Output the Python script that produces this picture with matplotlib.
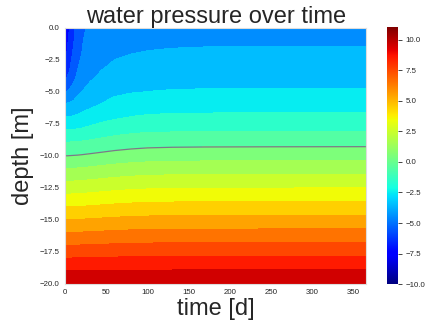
import numpy as np
import matplotlib
matplotlib.use("Agg")
import matplotlib.pyplot as plt
from matplotlib.colors import Normalize
from matplotlib.cm import ScalarMappable

# time nodes [d]
times = [0, 2.5, 5, 10, 15, 20, 30, 45, 60, 80, 100, 130, 170, 250, 365]
# depth nodes [m]
depths = [0, -1, -2, -3, -4, -5, -6, -7, -8, -9, -10, -15, -20]

# water pressure, one list per time node (values at each depth node)
p_t0   = [-7.70, -7.45, -7.20, -6.85, -6.08, -5.00, -3.88, -2.96, -1.98, -0.93, 0.00, 5.00, 10.0]
p_t2   = [-7.35, -7.16, -6.90, -6.43, -5.90, -4.95, -3.87, -2.95, -1.98, -0.93, 0.00, 5.00, 10.0]
p_t5   = [-7.00, -6.72, -6.44, -6.17, -5.68, -4.84, -3.82, -2.93, -1.97, -0.92, 0.01, 5.00, 10.0]
p_t10  = [-6.25, -6.08, -5.83, -5.50, -5.17, -4.57, -3.73, -2.90, -1.95, -0.91, 0.03, 5.01, 10.0]
p_t15  = [-5.60, -5.43, -5.26, -5.09, -4.74, -4.21, -3.57, -2.82, -1.90, -0.89, 0.05, 5.02, 10.0]
p_t20  = [-5.15, -5.08, -5.00, -4.67, -4.33, -4.00, -3.41, -2.74, -1.85, -0.86, 0.08, 5.04, 10.0]
p_t30  = [-4.85, -4.66, -4.46, -4.27, -4.08, -3.70, -3.20, -2.54, -1.71, -0.77, 0.15, 5.07, 10.0]
p_t45  = [-4.65, -4.46, -4.27, -4.08, -3.76, -3.36, -2.94, -2.29, -1.52, -0.65, 0.26, 5.13, 10.0]
p_t60  = [-4.55, -4.34, -4.13, -3.86, -3.52, -3.17, -2.71, -2.12, -1.36, -0.53, 0.37, 5.18, 10.0]
p_t80  = [-4.50, -4.26, -4.01, -3.69, -3.37, -3.05, -2.53, -1.96, -1.22, -0.42, 0.48, 5.24, 10.0]
p_t100 = [-4.47, -4.21, -3.94, -3.62, -3.31, -2.99, -2.45, -1.87, -1.14, -0.34, 0.55, 5.27, 10.0]
p_t130 = [-4.45, -4.17, -3.88, -3.57, -3.27, -2.94, -2.40, -1.82, -1.11, -0.30, 0.60, 5.30, 10.0]
p_t170 = [-4.43, -4.14, -3.85, -3.55, -3.25, -2.92, -2.38, -1.80, -1.09, -0.28, 0.62, 5.31, 10.0]
p_t250 = [-4.42, -4.13, -3.83, -3.54, -3.24, -2.91, -2.37, -1.79, -1.08, -0.27, 0.64, 5.32, 10.0]
p_t365 = [-4.42, -4.12, -3.83, -3.54, -3.24, -2.91, -2.37, -1.79, -1.08, -0.26, 0.645, 5.32, 10.0]

levels = list(range(-10, 12))
cbar_ticks = [-10.0, -7.5, -5.0, -2.5, 0.0, 2.5, 5.0, 7.5, 10.0]
x_ticks = [0, 50, 100, 150, 200, 250, 300, 350]
y_ticks = [0.0, -2.5, -5.0, -7.5, -10.0, -12.5, -15.0, -17.5, -20.0]

P = np.array([p_t0, p_t2, p_t5, p_t10, p_t15, p_t20, p_t30, p_t45, p_t60, p_t80,
              p_t100, p_t130, p_t170, p_t250, p_t365]).T
T, Z = np.meshgrid(times, depths)

plt.rcParams['font.family'] = ['Liberation Sans', 'DejaVu Sans']
txt = '#262626'

fig = plt.figure(figsize=(4.27, 3.29), dpi=100)
ax = fig.add_axes([0.153, 0.138, 0.704, 0.777])
norm = Normalize(vmin=-10, vmax=11)
ax.contourf(T, Z, P, levels=levels, cmap='jet', norm=norm)
ax.contour(T, Z, P, levels=[0], colors='#7a7a8a', linewidths=0.9)
ax.set_xlim(0, 365)
ax.set_ylim(-20, 0)
ax.set_xticks(x_ticks)
ax.set_yticks(y_ticks)
ax.set_yticklabels([f"{v:.1f}".replace('-', '\u2212') for v in y_ticks])
ax.tick_params(length=0, labelsize=5.7, labelcolor=txt, pad=4)
for s in ax.spines.values():
    s.set_color('#dddddd')
    s.set_linewidth(0.8)
ax.set_title('water pressure over time', fontsize=17, color=txt, pad=1)
ax.set_xlabel('time [d]', fontsize=17, color=txt, labelpad=1)
ax.set_ylabel('depth [m]', fontsize=17, color=txt, labelpad=4)

cax = fig.add_axes([0.9056, 0.136, 0.0272, 0.781])
cb = fig.colorbar(ScalarMappable(norm=norm, cmap='jet'), cax=cax, ticks=cbar_ticks)
cb.outline.set_visible(False)
cb.ax.set_yticklabels([f"{v:.1f}".replace('-', '\u2212') for v in cbar_ticks])
cb.ax.tick_params(length=3, width=0.6, color=txt, labelsize=5.7, labelcolor=txt, pad=2)

fig.savefig('out.png', dpi=100)
